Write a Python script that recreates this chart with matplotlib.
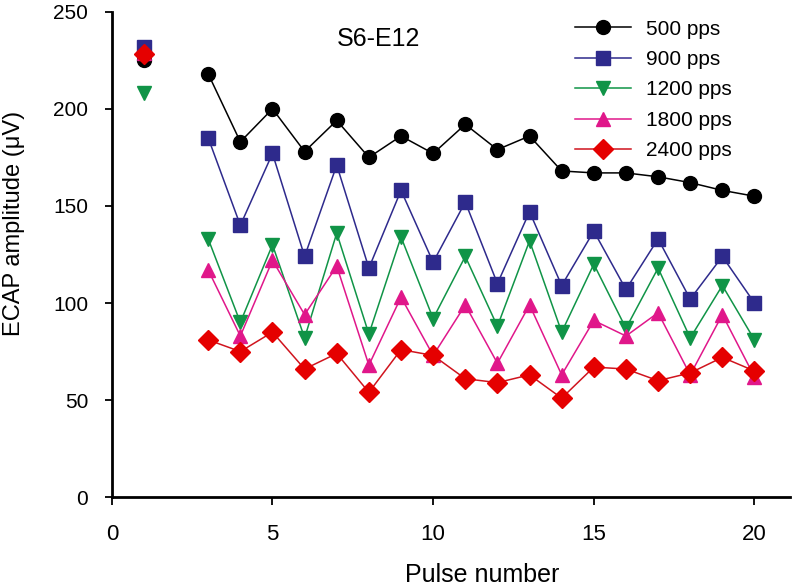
import numpy as np
import matplotlib.pyplot as plt

pulse = [1, 2, 3, 4, 5, 6, 7, 8, 9, 10, 11, 12, 13, 14, 15, 16, 17, 18, 19, 20]
nan = np.nan
amp_500 = [225, nan, 218, 183, 200, 178, 194, 175, 186, 177, 192, 179, 186, 168, 167, 167, 165, 162, 158, 155]
amp_900 = [232, nan, 185, 140, 177, 124, 171, 118, 158, 121, 152, 110, 147, 109, 137, 107, 133, 102, 124, 100]
amp_1200 = [208, nan, 133, 90, 130, 82, 136, 84, 134, 92, 124, 88, 132, 85, 120, 87, 118, 82, 109, 81]
amp_1800 = [229, nan, 117, 83, 122, 94, 119, 68, 103, 73, 99, 69, 99, 63, 91, 83, 95, 63, 94, 62]
amp_2400 = [228, nan, 81, 75, 85, 66, 74, 54, 76, 73, 61, 59, 63, 51, 67, 66, 60, 64, 72, 65]

series = [
    ("500 pps", amp_500, "black", "black", "o"),
    ("900 pps", amp_900, "#2E2A8C", "#2E2A8C", "s"),
    ("1200 pps", amp_1200, "#109447", "#109447", "v"),
    ("1800 pps", amp_1800, "#E0178A", "#E0178A", "^"),
    ("2400 pps", amp_2400, "#D0141E", "#E50000", "D"),
]

plt.rcParams['font.family'] = ['Liberation Sans', 'DejaVu Sans']

fig = plt.figure(figsize=(7.93, 5.87), dpi=100)
ax = fig.add_axes([0.141, 0.153, 0.855, 0.827])

for label, vals, lc, mc, mk in series:
    ax.plot(pulse, vals, color=lc, lw=1.1, marker=mk, markersize=10,
            markerfacecolor=mc, markeredgecolor=mc, label=label)

ax.set_xlim(0, 21.1)
ax.set_ylim(0, 250)
ax.set_xticks([0, 5, 10, 15, 20])
ax.set_yticks([0, 50, 100, 150, 200, 250])

for s in ['top', 'right']:
    ax.spines[s].set_visible(False)
for s in ['left', 'bottom']:
    ax.spines[s].set_linewidth(2)

ax.tick_params(axis='y', direction='out', length=5, width=1.3, labelsize=15, pad=12)
ax.tick_params(axis='x', direction='out', length=6, width=1.3, labelsize=16, pad=13)

ax.set_xlabel('Pulse number', fontsize=18, va='top')
ax.xaxis.set_label_coords(0.546, -0.135)
ax.set_ylabel('ECAP amplitude (\u03bcV)', fontsize=17)
ax.yaxis.set_label_coords(-0.128, 0.563)

ax.text(8.3, 236, 'S6-E12', fontsize=18, ha='center', va='center')

ax.legend(loc='upper left', bbox_to_anchor=(0.683, 0.984), frameon=False,
          borderpad=0, borderaxespad=0,
          fontsize=15, handlelength=2.7, labelspacing=0.55, handletextpad=0.7)

fig.savefig('out.png', dpi=100)
